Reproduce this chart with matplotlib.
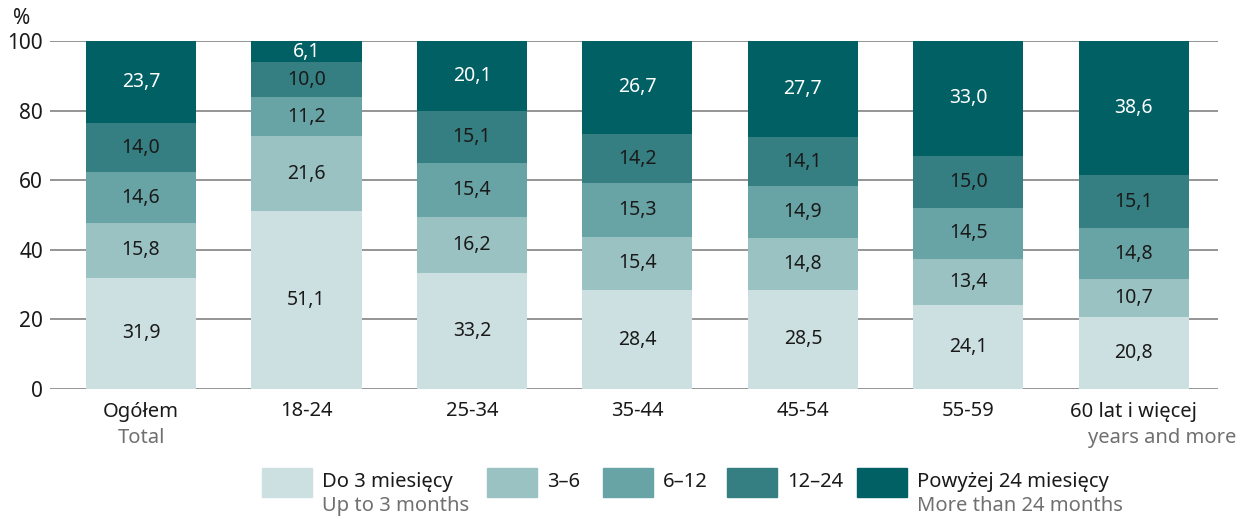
import numpy as np
import matplotlib
matplotlib.use('Agg')
import matplotlib.pyplot as plt
from matplotlib.patches import Rectangle
import matplotlib.transforms as mtransforms

plt.rcParams['font.family'] = ['Noto Sans', 'DejaVu Sans']

# data
categories = ['Ogółem', '18-24', '25-34', '35-44', '45-54', '55-59', '60 lat i więcej']
up_to_3 = [31.9, 51.1, 33.2, 28.4, 28.5, 24.1, 20.8]
m3_6 = [15.8, 21.6, 16.2, 15.4, 14.8, 13.4, 10.7]
m6_12 = [14.6, 11.2, 15.4, 15.3, 14.9, 14.5, 14.8]
m12_24 = [14.0, 10.0, 15.1, 14.2, 14.1, 15.0, 15.1]
over_24 = [23.7, 6.1, 20.1, 26.7, 27.7, 33.0, 38.6]

series = [up_to_3, m3_6, m6_12, m12_24, over_24]
colors = ['#cde0e1', '#9bc2c3', '#68a3a5', '#357f82', '#006064']
label_colors = ['#1a1a1a', '#1a1a1a', '#1a1a1a', '#1a1a1a', 'white']
legend_pl = ['Do 3 miesięcy', '3–6', '6–12', '12–24', 'Powyżej 24 miesięcy']
legend_en = ['Up to 3 months', '', '', '', 'More than 24 months']

W, H = 1248, 518
fig = plt.figure(figsize=(W / 100, H / 100), dpi=100)
ax = fig.add_axes([50 / W, 1 - 389 / H, (1218 - 50) / W, 348 / H])

x = np.arange(len(categories))
bottom = np.zeros(len(categories))
for vals, c, lc in zip(series, colors, label_colors):
    vals = np.array(vals)
    ax.bar(x, vals, bottom=bottom, width=0.665, color=c, zorder=3)
    for xi, b, v in zip(x, bottom, vals):
        ax.text(xi, b + v / 2, f'{v:.1f}'.replace('.', ','), ha='center', va='center',
                fontsize=14, color=lc, zorder=4)
    bottom += vals

ax.set_xlim(-0.55, 6.508)
ax.set_ylim(0, 100)
ax.set_yticks([0, 20, 40, 60, 80, 100])
ax.yaxis.grid(True, color='#8c8c8c', linewidth=1.3, zorder=0)
ax.set_axisbelow(True)
for s in ax.spines.values():
    s.set_visible(False)
ax.tick_params(axis='y', length=0, pad=5, labelsize=15, labelcolor='#1a1a1a')
ax.tick_params(axis='x', length=0, pad=9, labelsize=14.5, labelcolor='#1a1a1a')
ax.set_xticks(x)
ax.set_xticklabels(categories)

# english sub-labels
trans = mtransforms.blended_transform_factory(ax.transData, fig.transFigure)
ax.text(0, 1 - 438 / H, 'Total', transform=trans, ha='center', va='center',
        fontsize=14.5, color='#707070')
ax.text(6.17, 1 - 438 / H, 'years and more', transform=trans, ha='center', va='center',
        fontsize=14.5, color='#707070')

fig.text(22 / W, 1 - 18 / H, '%', ha='center', va='center', fontsize=15, color='#1a1a1a')

# legend
patch_x = [262, 487, 603, 727, 857]
for px, c, lp, le in zip(patch_x, colors, legend_pl, legend_en):
    fig.add_artist(Rectangle((px / W, 1 - 497 / H), 50 / W, 29 / H,
                             transform=fig.transFigure, color=c))
    fig.text((px + 60) / W, 1 - 482 / H, lp, ha='left', va='center',
             fontsize=14.5, color='#1a1a1a')
    if le:
        fig.text((px + 60) / W, 1 - 506 / H, le, ha='left', va='center',
                 fontsize=14.5, color='#707070')

fig.savefig('out.png', dpi=100)
